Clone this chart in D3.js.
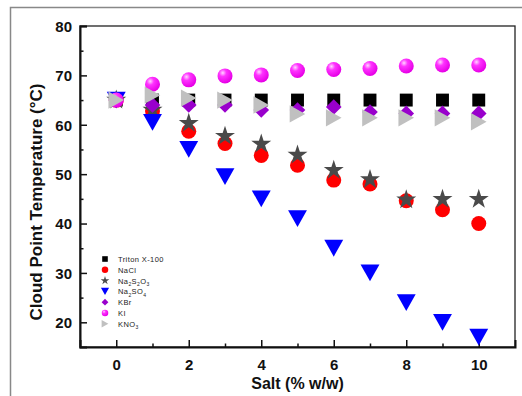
<!DOCTYPE html>
<html>
<head>
<meta charset="utf-8">
<script src="https://cdn.jsdelivr.net/npm/d3@7"></script>
<style>
  body { margin: 0; background: #fff; }
  svg { display: block; font-family: "Liberation Sans", Arial, sans-serif; }
</style>
</head>
<body>
<div id="chart"></div>
<script>
const salt = [0, 1, 2, 3, 4, 5, 6, 7, 8, 9, 10];
const triton = [65, 65, 65, 65, 65, 65, 65, 65, 65, 65, 65];
const nacl = [65, 62.8, 58.7, 56.2, 53.8, 51.8, 48.8, 48, 44.6, 42.8, 40];
const na2s2o3 = [65, 63, 60.3, 57.7, 56.1, 53.9, 50.8, 48.9, 44.8, 44.9, 44.9];
const na2so4 = [65, 60.5, 55, 49.5, 45, 41, 35, 30, 24, 20, 17];
const kbr = [65, 64, 64, 64, 63, 63, 63.6, 62.6, 62.3, 62.3, 62.3];
const ki = [65, 68.2, 69.1, 69.9, 70.1, 71, 71.2, 71.4, 71.9, 72.1, 72.1];
const kno3 = [65, 66, 65.4, 65, 64, 62.2, 61.4, 61.4, 61.4, 61.4, 60.6];
const xTicks = [0, 2, 4, 6, 8, 10];
const yTicks = [20, 30, 40, 50, 60, 70, 80];

const series = [
  {name: 'Triton X-100', sub: null, vals: triton, sym: 'square', color: '#000'},
  {name: 'NaCl', sub: null, vals: nacl, sym: 'circle', color: '#ff0000'},
  {name: 'Na2S2O3', sub: ['Na', '2', 'S', '2', 'O', '3'], vals: na2s2o3, sym: 'star', color: '#4a4a4a'},
  {name: 'Na2SO4', sub: ['Na', '2', 'SO', '4'], vals: na2so4, sym: 'down', color: '#0000ff'},
  {name: 'KBr', sub: null, vals: kbr, sym: 'diamond', color: '#9900cc'},
  {name: 'KI', sub: null, vals: ki, sym: 'ball', color: '#ff00ff'},
  {name: 'KNO3', sub: ['KNO', '3'], vals: kno3, sym: 'right', color: '#c0c0c0'}
];

const W = 522, H = 396;
const margin = {top: 26, right: 7, bottom: 49, left: 80};
const width = W - margin.left - margin.right;
const height = H - margin.top - margin.bottom;

const svg = d3.select('#chart').append('svg')
  .attr('width', W).attr('height', H);

const defs = svg.append('defs');
const grad = defs.append('radialGradient').attr('id', 'ball')
  .attr('cx', '35%').attr('cy', '30%').attr('r', '70%');
grad.append('stop').attr('offset', '0%').attr('stop-color', '#ffd6ff');
grad.append('stop').attr('offset', '35%').attr('stop-color', '#ff33ff');
grad.append('stop').attr('offset', '100%').attr('stop-color', '#e600e6');

// outer frame
svg.append('rect')
  .attr('x', 10.5).attr('y', 7.5).attr('width', 530).attr('height', 400)
  .attr('fill', 'none').attr('stroke', '#888').attr('stroke-width', 1.5);

const g = svg.append('g')
  .attr('transform', 'translate(' + margin.left + ',' + margin.top + ')');

const x = d3.scaleLinear().domain([-1, 11]).range([0, width]);
const y = d3.scaleLinear().domain([15, 80]).range([height, 0]);

// box
g.append('rect').attr('width', width).attr('height', height)
  .attr('fill', 'none').attr('stroke', '#222').attr('stroke-width', 1.3);

g.append('g').attr('transform', 'translate(0,' + height + ')')
  .call(d3.axisBottom(x).tickValues(xTicks).tickSize(-7).tickPadding(12).tickFormat(d3.format('d')));
g.append('g').attr('transform', 'translate(0,' + height + ')')
  .call(d3.axisBottom(x).tickValues([1, 3, 5, 7, 9]).tickSize(-3.5).tickFormat(''))
  .call(a => a.select('.domain').remove());

const yAxis = g.append('g')
  .call(d3.axisLeft(y).tickValues(yTicks).tickSize(-7).tickPadding(8));
g.append('g')
  .call(d3.axisLeft(y).tickValues([25, 35, 45, 55, 65, 75]).tickSize(-3.5).tickFormat(''))
  .call(a => a.select('.domain').remove());

g.selectAll('.domain').attr('stroke', '#111').attr('stroke-width', 2);
g.selectAll('.tick line').attr('stroke', '#111').attr('stroke-width', 1.5);
g.selectAll('.tick text')
  .style('font-size', '15px').style('font-weight', 'bold').attr('fill', '#111')
  .style('font-family', '"Liberation Sans", Arial, sans-serif');
yAxis.selectAll('.tick text').attr('dy', '0.36em');

// symbols
function drawSym(sel, sym, color, s) {
  if (sym === 'square') {
    sel.append('rect').attr('x', -s * 0.43).attr('y', -s * 0.43)
      .attr('width', s * 0.86).attr('height', s * 0.86).attr('fill', color);
  } else if (sym === 'circle') {
    sel.append('circle').attr('r', s * 0.5).attr('fill', color);
  } else if (sym === 'ball') {
    sel.append('circle').attr('r', s * 0.5).attr('fill', 'url(#ball)');
  } else if (sym === 'star') {
    sel.append('path').attr('d', d3.symbol().type(d3.symbolStar).size(s * s * 0.55)())
      .attr('fill', color);
  } else if (sym === 'down') {
    const w = s * 0.63, h = s * 0.56;
    sel.append('path').attr('d', 'M' + (-w) + ',' + (-h) + 'L' + w + ',' + (-h) + 'L0,' + h + 'Z')
      .attr('fill', color);
  } else if (sym === 'right') {
    const w = s * 0.52, h = s * 0.58;
    sel.append('path').attr('d', 'M' + (-w) + ',' + (-h) + 'L' + w + ',0L' + (-w) + ',' + h + 'Z')
      .attr('fill', color);
  } else if (sym === 'diamond') {
    const r = s * 0.52;
    sel.append('path').attr('d', 'M0,' + (-r) + 'L' + r + ',0L0,' + r + 'L' + (-r) + ',0Z')
      .attr('fill', color);
  }
}

series.forEach(sr => {
  const pts = g.append('g').selectAll('g')
    .data(sr.vals.map((v, i) => ({x: salt[i], y: v})))
    .enter().append('g')
    .attr('transform', d => 'translate(' + x(d.x) + ',' + y(d.y) + ')');
  pts.each(function () { drawSym(d3.select(this), sr.sym, sr.color, 15); });
});

// legend
const leg = svg.append('g').attr('transform', 'translate(105,259)');
series.forEach((sr, i) => {
  const row = leg.append('g').attr('transform', 'translate(0,' + (i * 10.8) + ')');
  drawSym(row, sr.sym, sr.color, 6.5);
  const t = row.append('text').attr('x', 13).attr('y', 3)
    .style('font-size', '7.5px').style('letter-spacing', '0.4px').attr('fill', '#222');
  if (sr.sub) {
    sr.sub.forEach((p, k) => {
      const ts = t.append('tspan').text(p);
      if (k % 2 === 1) ts.attr('dy', 2.5).style('font-size', '5px');
      else if (k > 0) ts.attr('dy', -2.5);
    });
  } else {
    t.text(sr.name);
  }
});

// axis titles
svg.append('text')
  .attr('transform', 'translate(42,202) rotate(-90)')
  .attr('text-anchor', 'middle')
  .style('font-size', '17px').style('font-weight', 'bold').attr('fill', '#111')
  .text('Cloud Point Temperature (°C)');

svg.append('text')
  .attr('x', margin.left + x(5)).attr('y', 389)
  .attr('text-anchor', 'middle')
  .style('font-size', '16px').style('font-weight', 'bold').attr('fill', '#111')
  .text('Salt (% w/w)');
</script>
</body>
</html>
